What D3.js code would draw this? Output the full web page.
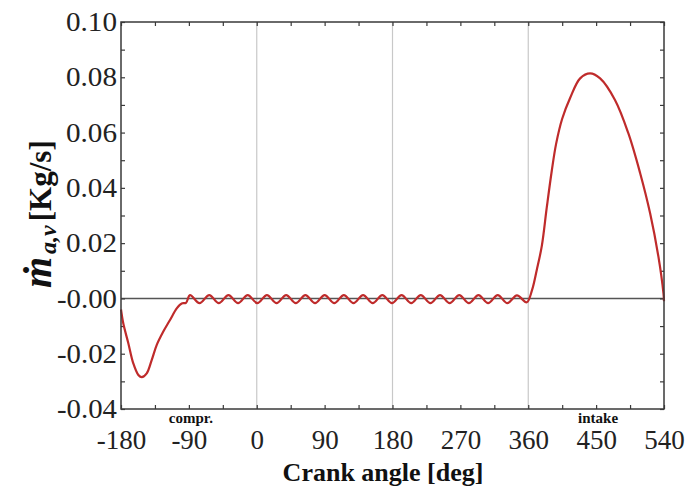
<!DOCTYPE html>
<html>
<head>
<meta charset="utf-8">
<script src="https://cdn.jsdelivr.net/npm/d3@7"></script>
<style>
  html, body { margin: 0; padding: 0; background: #fff; }
  svg { display: block; }
  text { font-family: "Liberation Serif", "Times New Roman", serif; }
</style>
</head>
<body>
<svg id="chart" width="688" height="489"></svg>
<script>
// ---------- data ----------
const xTickValues = [-180, -90, 0, 90, 180, 270, 360, 450, 540];
const xTickLabels = ["-180", "-90", "0", "90", "180", "270", "360", "450", "540"];
const xMinorTicks = [-180, -135, -90, -45, 0, 45, 90, 135, 180, 225, 270, 315, 360, 405, 450, 495, 540];
const yTickValues = [-0.04, -0.02, 0.00, 0.02, 0.04, 0.06, 0.08, 0.10];
const yTickLabels = ["-0.04", "-0.02", "-0.00", "0.02", "0.04", "0.06", "0.08", "0.10"];
const yMinorTicks = [-0.04, -0.03, -0.02, -0.01, 0, 0.01, 0.02, 0.03, 0.04, 0.05, 0.06, 0.07, 0.08, 0.09, 0.10];
const gridAngles = [0, 180, 360];
const phaseLabels = [{ angle: -90, text: "compr." }, { angle: 450, text: "intake" }];

// crank angle [deg]
const crankAngle = [
  -180, -177, -170.3, -163.7, -157, -152.5, -145.9, -139.3, -132.7, -123.9, -115, -106.1, -99.5, -93.8,
  -88.5, -75.8, -63, -50.3, -37.5, -24.8, -12, 0.8, 13.5, 26.3, 39, 51.8, 64.5, 77.3, 90, 102.8,
  115.5, 128.3, 141, 153.8, 166.5, 179.3, 192, 204.8, 217.5, 230.3, 243, 255.8, 268.5, 281.3,
  294, 306.8, 319.5, 332.3, 345, 358,
  365, 371.3, 378, 384.6, 391.2, 397, 405, 415.5, 428.8, 442, 455.3, 475, 492.8, 508.4,
  521.6, 532.6, 539.3, 540
];
// air mass flow through valve [Kg/s]
const massFlow = [
  -0.0040, -0.0090, -0.0162, -0.0235, -0.0277, -0.0285, -0.0271, -0.0223, -0.0169, -0.0120, -0.0078, -0.0036, -0.0018, -0.0016,
  0.0012, -0.0017, 0.0012, -0.0017, 0.0012, -0.0017, 0.0012, -0.0017, 0.0012, -0.0017, 0.0012, -0.0017, 0.0012, -0.0017, 0.0012, -0.0017,
  0.0012, -0.0017, 0.0012, -0.0017, 0.0012, -0.0017, 0.0012, -0.0017, 0.0012, -0.0017, 0.0012, -0.0017, 0.0012, -0.0017,
  0.0012, -0.0017, 0.0012, -0.0017, 0.0011, -0.0014,
  0.0030, 0.0103, 0.0190, 0.0330, 0.0462, 0.0560, 0.0650, 0.0725, 0.0796, 0.0814, 0.0796, 0.0718, 0.0597, 0.0453,
  0.0308, 0.0151, 0.0018, -0.0010
];

// ---------- layout ----------
const svg = d3.select("#chart");
const mLeft = 121, mRight = 664, mTop = 22, mBottom = 409;

const x = d3.scaleLinear().domain([-180, 540]).range([mLeft, mRight]);
const y = d3.scaleLinear().domain([-0.04, 0.10]).range([mBottom, mTop]);

const frameColor = "#3a3a3a";

// vertical grid lines
svg.append("g").selectAll("line").data(gridAngles).join("line")
  .attr("x1", d => x(d)).attr("x2", d => x(d))
  .attr("y1", mTop).attr("y2", mBottom)
  .attr("stroke", "#c8c8c8").attr("stroke-width", 1.2);

// zero line
svg.append("line")
  .attr("x1", mLeft).attr("x2", mRight)
  .attr("y1", y(0)).attr("y2", y(0))
  .attr("stroke", "#555").attr("stroke-width", 1.6);

// minor ticks (inward) on all four sides
function styleTicks(g) {
  g.select(".domain").remove();
  g.selectAll(".tick line").attr("stroke", frameColor).attr("stroke-width", 1.2);
  g.selectAll(".tick text").remove();
}
svg.append("g").attr("transform", `translate(0,${mBottom})`)
  .call(d3.axisBottom(x).tickValues(xMinorTicks).tickSize(-4)).call(styleTicks);
svg.append("g").attr("transform", `translate(0,${mTop})`)
  .call(d3.axisTop(x).tickValues(xMinorTicks).tickSize(-4)).call(styleTicks);
svg.append("g").attr("transform", `translate(${mLeft},0)`)
  .call(d3.axisLeft(y).tickValues(yMinorTicks).tickSize(-4)).call(styleTicks);
svg.append("g").attr("transform", `translate(${mRight},0)`)
  .call(d3.axisRight(y).tickValues(yMinorTicks).tickSize(-4)).call(styleTicks);

// curve
const line = d3.line()
  .x((d, i) => x(crankAngle[i]))
  .y(d => y(d))
  .curve(d3.curveCatmullRom.alpha(0.5));

svg.append("path")
  .datum(massFlow)
  .attr("d", line)
  .attr("fill", "none")
  .attr("stroke", "#bf2b2b")
  .attr("stroke-width", 2.2)
  .attr("stroke-linejoin", "round");

// frame
svg.append("rect")
  .attr("x", mLeft).attr("y", mTop)
  .attr("width", mRight - mLeft).attr("height", mBottom - mTop)
  .attr("fill", "none").attr("stroke", frameColor).attr("stroke-width", 1.5);

// x tick labels
const xAxis = svg.append("g").attr("transform", `translate(0,${mBottom})`)
  .call(d3.axisBottom(x).tickValues(xTickValues)
    .tickFormat((d, i) => xTickLabels[i]).tickSize(0).tickPadding(21));
xAxis.select(".domain").remove();
xAxis.selectAll(".tick text")
  .attr("font-family", "Liberation Serif, serif")
  .attr("font-size", 27).attr("fill", "#222");

// y tick labels
const yAxis = svg.append("g").attr("transform", `translate(${mLeft},0)`)
  .call(d3.axisLeft(y).tickValues(yTickValues)
    .tickFormat((d, i) => yTickLabels[i]).tickSize(0).tickPadding(4));
yAxis.select(".domain").remove();
yAxis.selectAll(".tick text")
  .attr("font-family", "Liberation Serif, serif")
  .attr("font-size", 27).attr("fill", "#222")
  .attr("textLength", function() { return this.textContent.length === 5 ? 60 : 51; })
  .attr("lengthAdjust", "spacingAndGlyphs");

// phase labels
svg.append("g").selectAll("text").data(phaseLabels).join("text")
  .attr("x", d => x(d.angle) + 2)
  .attr("y", 423)
  .attr("text-anchor", "middle")
  .attr("font-size", 15).attr("font-weight", "bold").attr("fill", "#111")
  .text(d => d.text);

// x axis title
svg.append("text")
  .attr("x", 383).attr("y", 481)
  .attr("text-anchor", "middle")
  .attr("font-size", 26).attr("font-weight", "bold").attr("fill", "#111")
  .text("Crank angle [deg]");

// y axis title
const yt = svg.append("text")
  .attr("transform", "translate(51,288) rotate(-90)")
  .attr("text-anchor", "start").attr("fill", "#111");
yt.append("tspan").attr("font-size", 40).attr("font-style", "italic").attr("font-weight", "bold").text("ṁ");
yt.append("tspan").attr("font-size", 24).attr("font-style", "italic").attr("font-weight", "bold")
  .attr("dy", 5).attr("dx", 3).text("a,v");
yt.append("tspan").attr("font-size", 31).attr("font-weight", "bold")
  .attr("dy", -5).attr("dx", 4).text("[Kg/s]");
</script>
</body>
</html>
